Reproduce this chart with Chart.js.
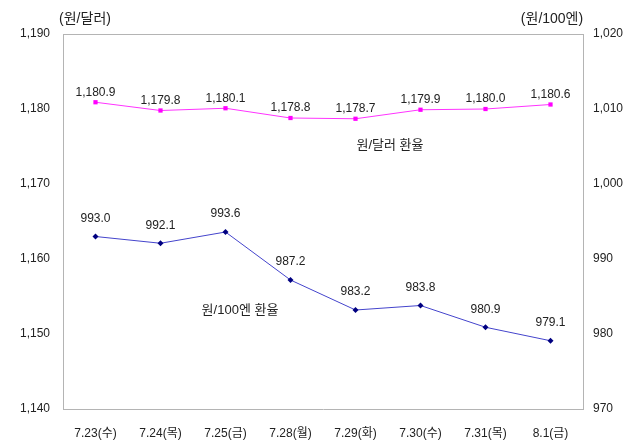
<!DOCTYPE html>
<html>
<head>
<meta charset="utf-8">
<script src="https://cdn.jsdelivr.net/npm/chart.js@4/dist/chart.umd.min.js"></script>
<style>
  body { margin: 0; background: #fff; }
  #wrap { width: 623px; height: 444px; }
</style>
</head>
<body>
<div id="wrap"><canvas id="fx" width="623" height="444"></canvas></div>
<script>
const dates = ["7.23(수)", "7.24(목)", "7.25(금)", "7.28(월)", "7.29(화)", "7.30(수)", "7.31(목)", "8.1(금)"];
const wonDollar = [1180.9, 1179.8, 1180.1, 1178.8, 1178.7, 1179.9, 1180.0, 1180.6];
const wonYen = [993.0, 992.1, 993.6, 987.2, 983.2, 983.8, 980.9, 979.1];
const leftTicks = [1140, 1150, 1160, 1170, 1180, 1190];
const rightTicks = [970, 980, 990, 1000, 1010, 1020];

const FONT = '"Liberation Sans", "Noto Sans CJK KR", sans-serif';
const fmt = (v, d) => v.toLocaleString("en-US", { minimumFractionDigits: d, maximumFractionDigits: d });

// value labels, series names, axis titles and the plot frame
const extras = {
    id: "extras",
    beforeDatasetsDraw(c) {
        const a = c.chartArea, ctx = c.ctx;
        ctx.save();
        ctx.strokeStyle = "#b4b4b4";
        ctx.lineWidth = 1;
        ctx.beginPath();
        ctx.moveTo(a.left, a.top + 0.5);
        ctx.lineTo(a.right, a.top + 0.5);
        ctx.stroke();
        ctx.restore();
    },
    afterDatasetsDraw(c) {
        const ctx = c.ctx;
        ctx.save();
        ctx.fillStyle = "#222";
        ctx.textAlign = "center";
        ctx.textBaseline = "middle";
        ctx.font = "12px " + FONT;
        c.getDatasetMeta(0).data.forEach((p, i) => ctx.fillText(fmt(wonDollar[i], 1), p.x, p.y - 10));
        c.getDatasetMeta(1).data.forEach((p, i) => ctx.fillText(fmt(wonYen[i], 1), p.x, p.y - 18));
        ctx.font = "13px " + FONT;
        ctx.fillText("원/달러 환율", 390, 145);
        ctx.fillText("원/100엔 환율", 240, 310);
        ctx.font = "14px " + FONT;
        ctx.fillText("(원/달러)", 85, 19);
        ctx.fillText("(원/100엔)", 552, 19);
        ctx.restore();
    }
};

new Chart(document.getElementById("fx"), {
    type: "line",
    data: {
        labels: dates,
        datasets: [{
            label: "원/달러 환율",
            data: wonDollar,
            yAxisID: "y",
            borderColor: "#ff33ff",
            backgroundColor: "#ff00ff",
            borderWidth: 1,
            pointStyle: "rect",
            pointRadius: 3,
            pointBorderWidth: 0,
            tension: 0
        }, {
            label: "원/100엔 환율",
            data: wonYen,
            yAxisID: "y1",
            borderColor: "#4444cc",
            backgroundColor: "#000080",
            borderWidth: 1,
            pointStyle: "rectRot",
            pointRadius: 3,
            pointBorderWidth: 0,
            tension: 0
        }]
    },
    options: {
        responsive: false,
        animation: false,
        layout: { padding: { top: 34, left: 0, right: 0, bottom: 0 } },
        plugins: { legend: { display: false }, tooltip: { enabled: false } },
        scales: {
            x: {
                offset: true,
                grid: { display: false, drawTicks: false },
                border: { display: true, color: "#b4b4b4" },
                ticks: { color: "#222", font: { size: 12, family: FONT }, padding: 17, maxRotation: 0 },
                afterFit: s => { s.height = 35; }
            },
            y: {
                position: "left",
                min: 1140, max: 1190,
                afterBuildTicks: s => { s.ticks = leftTicks.map(v => ({ value: v })); },
                grid: { display: false, drawTicks: false },
                border: { display: true, color: "#b4b4b4" },
                ticks: { color: "#222", font: { size: 12, family: FONT }, padding: 13,
                    callback: v => fmt(v, 0) },
                afterFit: s => { s.width = 63; }
            },
            y1: {
                position: "right",
                min: 970, max: 1020,
                afterBuildTicks: s => { s.ticks = rightTicks.map(v => ({ value: v })); },
                grid: { display: false, drawTicks: false },
                border: { display: true, color: "#b4b4b4" },
                ticks: { color: "#222", font: { size: 12, family: FONT }, padding: 10,
                    callback: v => fmt(v, 0) },
                afterFit: s => { s.width = 40; }
            }
        }
    },
    plugins: [extras]
});
</script>
</body>
</html>
